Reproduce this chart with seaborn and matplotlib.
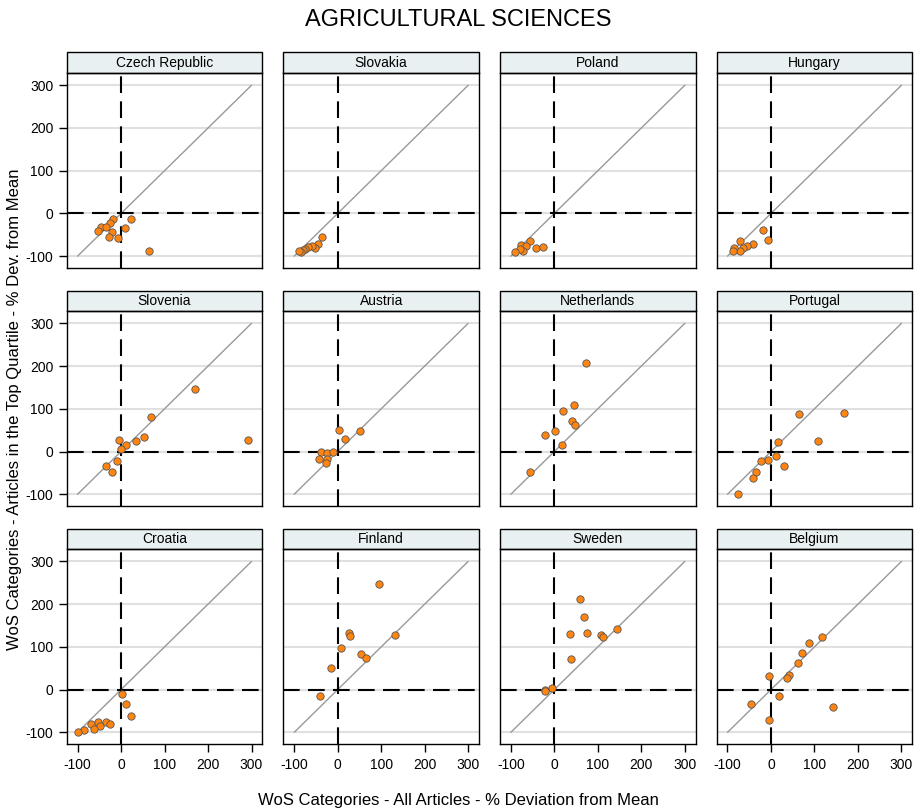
import numpy as np
import pandas as pd
import matplotlib
matplotlib.use("Agg")
import matplotlib.pyplot as plt
from matplotlib.patches import Rectangle
import seaborn as sns

countries = ["Czech Republic", "Slovakia", "Poland", "Hungary",
             "Slovenia", "Austria", "Netherlands", "Portugal",
             "Croatia", "Finland", "Sweden", "Belgium"]

czech_x = [-19, -45, -52, -25, -35, -21, -27, -8, 8, 23, 64]
czech_y = [-12, -31, -42, -23, -32, -44, -56, -58, -34, -13, -88]
slovakia_x = [-35, -45, -51, -60, -68, -74, -80, -84, -88]
slovakia_y = [-54, -72, -82, -76, -78, -83, -86, -90, -88]
poland_x = [-55, -77, -64, -71, -78, -91, -42, -25]
poland_y = [-65, -73, -77, -88, -84, -90, -82, -78]
hungary_x = [-19, -7, -72, -42, -56, -64, -71, -85, -88]
hungary_y = [-38, -62, -65, -72, -76, -81, -87, -82, -88]
slovenia_x = [169, 69, 292, 52, 35, -5, 12, 0, -9, -35, -21]
slovenia_y = [146, 81, 26, 35, 25, 28, 15, 7, -22, -35, -47]
austria_x = [51, 2, 17, -39, -25, -11, -43, -24, -28]
austria_y = [49, 50, 30, -2, -4, -2, -18, -18, -28]
netherlands_x = [72, 46, 19, 40, 48, 1, -22, 18, -56]
netherlands_y = [207, 109, 95, 72, 62, 48, 38, 15, -48]
portugal_x = [169, 64, 108, 17, 12, -7, -23, 29, -35, -42, -76]
portugal_y = [90, 87, 24, 22, -11, -20, -22, -33, -47, -61, -99]
croatia_x = [3, 12, 23, -35, -25, -54, -48, -69, -63, -85, -99]
croatia_y = [-11, -33, -62, -75, -81, -76, -84, -81, -93, -94, -100]
finland_x = [96, 131, 25, 28, 8, 53, 66, -16, -41]
finland_y = [247, 128, 133, 125, 98, 84, 75, 50, -15]
sweden_x = [58, 68, 35, 75, 108, 113, 144, 39, -5, -22, -21]
sweden_y = [212, 171, 130, 133, 127, 123, 142, 72, 4, 0, -4]
belgium_x = [118, 88, 72, 63, 41, 37, -5, 18, -45, 142, -5]
belgium_y = [122, 109, 85, 62, 35, 28, 31, -14, -33, -40, -72]

all_x = [czech_x, slovakia_x, poland_x, hungary_x, slovenia_x, austria_x,
         netherlands_x, portugal_x, croatia_x, finland_x, sweden_x, belgium_x]
all_y = [czech_y, slovakia_y, poland_y, hungary_y, slovenia_y, austria_y,
         netherlands_y, portugal_y, croatia_y, finland_y, sweden_y, belgium_y]

ticks = [-100, 0, 100, 200, 300]

rows = []
for name, xs, ys in zip(countries, all_x, all_y):
    for x, y in zip(xs, ys):
        rows.append({"country": name, "all": x, "top": y})
df = pd.DataFrame(rows)

sns.set_style("white")
plt.rcParams['font.family'] = ['Liberation Sans', 'DejaVu Sans']
plt.rcParams['axes.unicode_minus'] = False
plt.rcParams['text.color'] = 'black'
plt.rcParams['xtick.color'] = 'black'
plt.rcParams['ytick.color'] = 'black'
plt.rcParams['axes.labelcolor'] = 'black'

g = sns.FacetGrid(df, col="country", col_wrap=4, col_order=countries,
                  sharex=True, sharey=True, height=2, aspect=1)


def draw_refs(**kwargs):
    ax = plt.gca()
    for t in ticks:
        ax.axhline(t, color="#e0e0e0", lw=1.5, zorder=0)
    ax.plot([-100, 300], [-100, 300], color="#999999", lw=1, zorder=1)
    ax.axhline(0, color="black", lw=1.5, dashes=(8, 4), zorder=2)
    ax.axvline(0, color="black", lw=1.5, dashes=(8, 4), zorder=2)


g.map(draw_refs)
g.map_dataframe(sns.scatterplot, x="all", y="top", color="#ff8410",
                edgecolor="#555555", linewidth=0.6, s=28, zorder=3)

g.set(xlim=(-125, 325), ylim=(-128, 328), xticks=ticks, yticks=ticks)
g.set_titles("")
g.set_axis_labels("", "")

for i, (ax, name) in enumerate(zip(g.axes.flat, countries)):
    for sp in ax.spines.values():
        sp.set_visible(True)
        sp.set_color("black")
        sp.set_linewidth(1)
    ax.grid(False)
    ax.add_patch(Rectangle((0, 1), 1, 0.107, transform=ax.transAxes,
                           clip_on=False, facecolor="#e8f0f2",
                           edgecolor="black", lw=1))
    ax.text(0.5, 1.0535, name, transform=ax.transAxes, ha="center",
            va="center", fontsize=10, color="black")
    col = i % 4
    row = i // 4
    ax.tick_params(axis="y", left=(col == 0), labelleft=(col == 0),
                   length=6, width=1, color="black", labelcolor="black",
                   labelsize=10)
    ax.tick_params(axis="x", bottom=(row == 2), labelbottom=(row == 2),
                   length=6, width=1, color="black", labelcolor="black",
                   labelsize=10)

fig = g.figure
fig.set_size_inches(9.17, 8.10)
fig.subplots_adjust(left=0.0727, right=0.9949, top=0.9095, bottom=0.0811,
                    wspace=0.107, hspace=0.222)
fig.suptitle("AGRICULTURAL SCIENCES", y=0.975, va="center", fontsize=17,
             color="black")
fig.text(0.5, 0.012, "WoS Categories - All Articles - % Deviation from Mean",
         ha="center", va="center", fontsize=12, color="black")
fig.text(0.016, 0.495,
         "WoS Categories - Articles in the Top Quartile - % Dev. from Mean",
         ha="center", va="center", rotation=90, fontsize=12, color="black")

fig.savefig("out.png", dpi=100)
